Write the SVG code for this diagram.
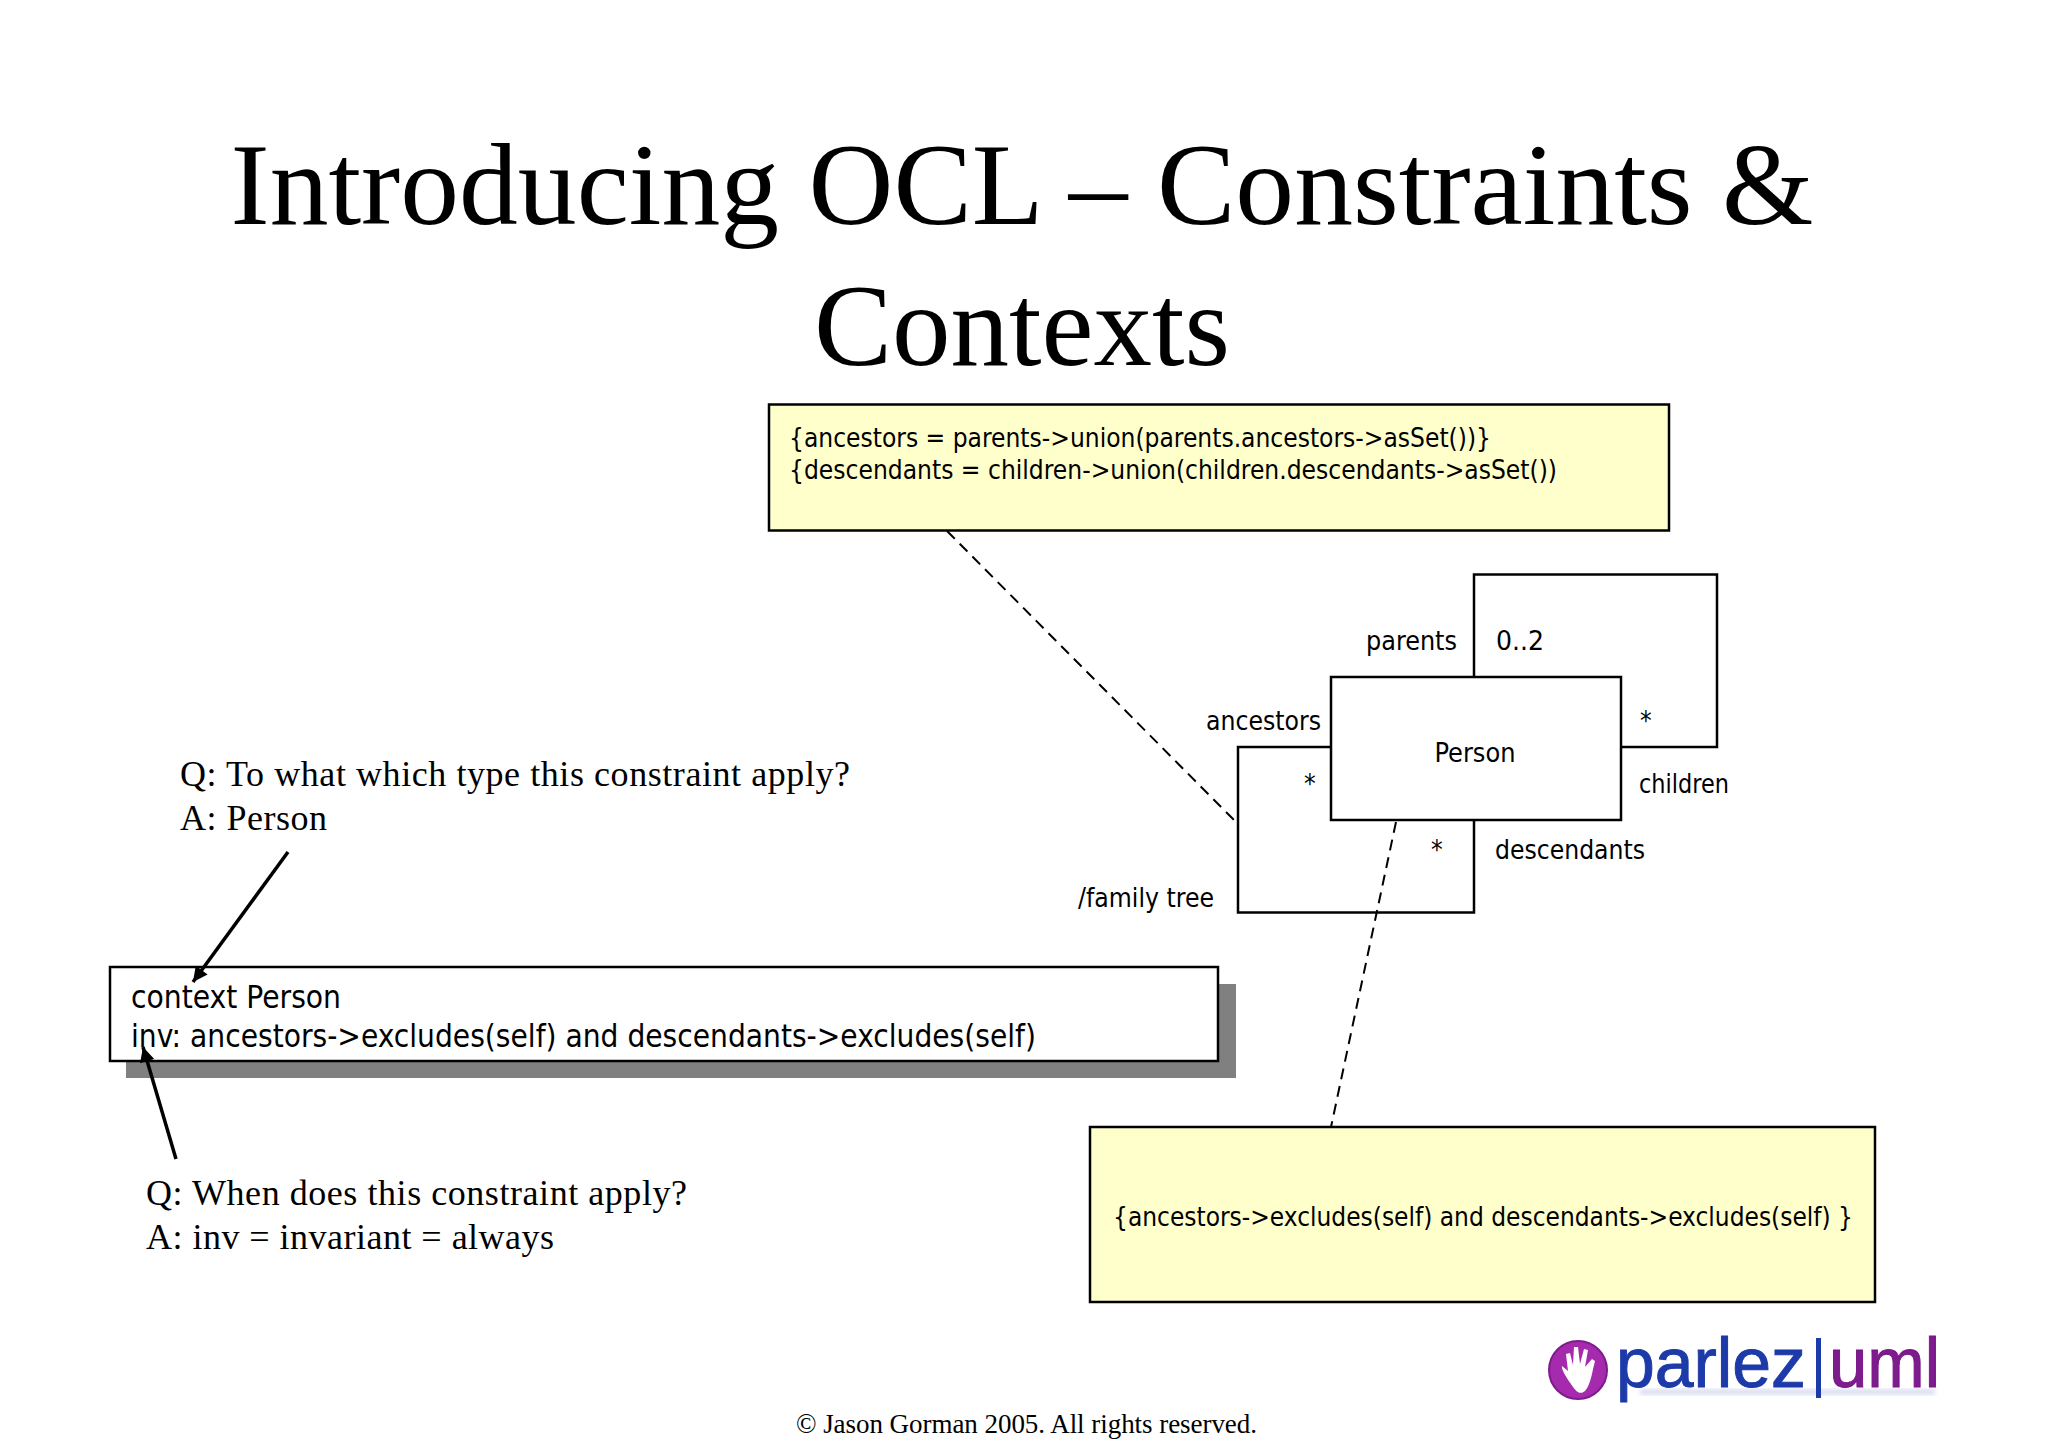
<svg xmlns="http://www.w3.org/2000/svg" width="2048" height="1447" viewBox="0 0 2048 1447">
<defs>
<style>
.serif{font-family:"Liberation Serif","Times New Roman",serif;fill:#000}
.uml{font-family:"DejaVu Sans",sans-serif;font-stretch:condensed;fill:#000;font-size:26px}
.big{font-size:32px}
.box{fill:#fff;stroke:#000;stroke-width:2.5}
.note{fill:#ffffcc;stroke:#000;stroke-width:2.5}
.line{fill:none;stroke:#000;stroke-width:2.5}
.dash{fill:none;stroke:#000;stroke-width:2;stroke-dasharray:11 7}
.arrow{fill:none;stroke:#000;stroke-width:3.5;marker-end:url(#head)}
</style>
<marker id="head" viewBox="0 0 10 10" refX="10" refY="5" markerWidth="4.6" markerHeight="4.2" orient="auto" markerUnits="strokeWidth"><path d="M0 0L10 5L0 10Z" fill="#000"/></marker>
<filter id="soft"><feGaussianBlur stdDeviation="0.7"/></filter>
<filter id="refl"><feGaussianBlur stdDeviation="2"/></filter>
</defs>
<rect width="2048" height="1447" fill="#fff"/>
<g id="title" class="serif" font-size="117" text-anchor="middle">
<text x="1022" y="224" textLength="1583" lengthAdjust="spacingAndGlyphs">Introducing OCL – Constraints &amp;</text>
<text x="1022" y="365">Contexts</text>
</g>
<g id="note-top"><rect class="note" x="769" y="404.500" width="900" height="126"/>
<text class="uml" x="789" y="447" textLength="702" lengthAdjust="spacingAndGlyphs">{ancestors = parents-&gt;union(parents.ancestors-&gt;asSet())}</text>
<text class="uml" x="789" y="479" textLength="768" lengthAdjust="spacingAndGlyphs">{descendants = children-&gt;union(children.descendants-&gt;asSet())</text></g>
<g id="person"><rect class="box" x="1331" y="677" width="290" height="143"/>
<text class="uml" x="1475" y="762" text-anchor="middle" textLength="81" lengthAdjust="spacingAndGlyphs">Person</text></g>
<g id="labels" class="uml">
<text x="1366" y="650" textLength="91" lengthAdjust="spacingAndGlyphs">parents</text>
<text x="1496" y="650" textLength="48" lengthAdjust="spacingAndGlyphs">0..2</text>
<text x="1206" y="730" textLength="115" lengthAdjust="spacingAndGlyphs">ancestors</text>
<text x="1640" y="730">*</text>
<text x="1304" y="793">*</text>
<text x="1639" y="793" textLength="90" lengthAdjust="spacingAndGlyphs">children</text>
<text x="1431" y="859">*</text>
<text x="1495" y="859" textLength="150" lengthAdjust="spacingAndGlyphs">descendants</text>
<text x="1078" y="907" textLength="136" lengthAdjust="spacingAndGlyphs">/family tree</text>
</g>
<g id="context"><rect x="126" y="984" width="1110" height="94" fill="#808080"/>
<rect class="box" x="110" y="967" width="1108" height="94"/>
<text class="uml big" x="131" y="1008" textLength="210" lengthAdjust="spacingAndGlyphs">context Person</text>
<text class="uml big" x="131" y="1047" textLength="905" lengthAdjust="spacingAndGlyphs">inv: ancestors-&gt;excludes(self) and descendants-&gt;excludes(self)</text></g>
<g id="q1" class="serif" font-size="36"><text x="180" y="786" textLength="670">Q: To what which type this constraint apply?</text><text x="180" y="830" textLength="147">A: Person</text></g>
<g id="q2" class="serif" font-size="36"><text x="146" y="1205" textLength="541">Q: When does this constraint apply?</text><text x="146" y="1249" textLength="408">A: inv = invariant = always</text></g>
<g id="note-bottom"><rect class="note" x="1090" y="1127" width="785" height="175"/>
<text class="uml" x="1113" y="1226" textLength="740" lengthAdjust="spacingAndGlyphs">{ancestors-&gt;excludes(self) and descendants-&gt;excludes(self) }</text></g>
<g id="logo">
<circle cx="1578" cy="1370" r="29" fill="#a62bae" stroke="#7d1a8c" stroke-width="2" filter="url(#soft)"/>
<path d="M1571 1384C1565 1376 1561 1368 1562 1366L1568 1371L1566 1354L1570 1353L1573 1365L1574 1347L1578 1347L1580 1364L1584 1349L1588 1350L1585 1367L1592 1359L1595 1361C1592 1372 1591 1384 1585 1391C1579 1396 1575 1390 1571 1384Z" fill="#fff" filter="url(#soft)"/>
<rect x="1640" y="1389" width="295" height="6" fill="#8a93d8" opacity=".3" filter="url(#refl)"/>
<g filter="url(#soft)" font-family="'Liberation Sans',sans-serif" font-size="71" stroke-width="1">
<text x="1616" y="1387" fill="#1c3aa9" stroke="#1c3aa9" textLength="190" lengthAdjust="spacingAndGlyphs">parlez</text>
<rect x="1816" y="1338" width="5" height="60" fill="#1c3aa9"/>
<text x="1829" y="1387" fill="#7d1a8c" stroke="#7d1a8c" textLength="111" lengthAdjust="spacingAndGlyphs">uml</text>
</g>
</g>
<text id="copyright" class="serif" font-size="27" x="796" y="1433" textLength="461">© Jason Gorman 2005. All rights reserved.</text>
<g id="connectors">
<path class="line" d="M1474 677V574.500H1717V747H1621"/>
<path class="line" d="M1331 747H1238V912.500H1474V820"/>
<path class="dash" d="M947 531L1234 820"/>
<path class="dash" d="M1396 822L1331 1127"/>
<path class="arrow" d="M288 852L193 982"/>
<path class="arrow" d="M176 1159L143 1047"/>
</g>
</svg>
